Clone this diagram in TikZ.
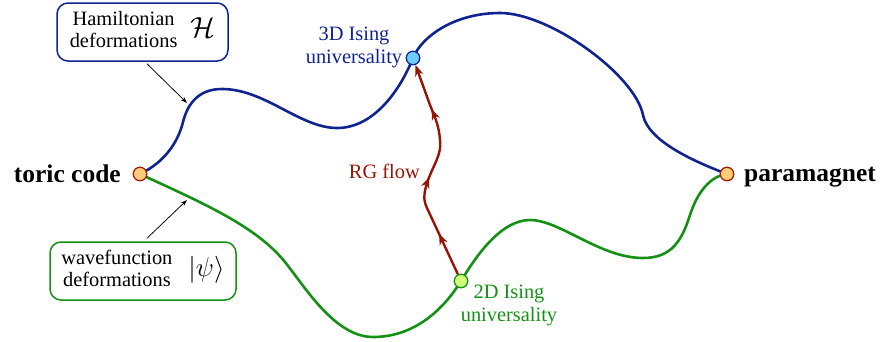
\RequirePackage{fix-cm}
\documentclass[tikz,border=0pt]{standalone}
\usepackage{fontspec}
\setmainfont{Liberation Serif}
\usetikzlibrary{arrows.meta,decorations.markings}
\definecolor{cblue}{RGB}{15,35,145}
\definecolor{cgreen}{RGB}{20,145,20}
\definecolor{cred}{RGB}{150,20,5}
\definecolor{dotorange}{RGB}{255,205,120}
\definecolor{dotblue}{RGB}{110,205,255}
\definecolor{dotgreen}{RGB}{210,255,120}
\definecolor{dotedge}{RGB}{160,30,10}
\pgfdeclarelayer{background}
\pgfsetlayers{background,main}
\begin{document}
\begin{tikzpicture}[x=1pt,y=-1pt,
  dot/.style={circle,draw,line width=1.3pt,minimum size=13.5pt,inner sep=0pt},
  curve/.style={line width=2.6pt},
  lbl/.style={font=\fontsize{20.4}{23}\selectfont,inner sep=0pt,align=center},
  bigl/.style={font=\fontsize{25.5}{28}\selectfont\bfseries,inner sep=0pt},
  infobox/.style={draw,rounded corners=11pt,line width=1.5pt,inner sep=0pt,
    font=\fontsize{20.4}{22.5}\selectfont,minimum height=58pt},
  pointer/.style={-{Stealth[length=6.5pt,width=4.5pt]},line width=0.75pt},
  rgtip/.tip={Stealth[length=11pt,width=8.5pt,inset=3.5pt]},
  rg/.style={cred,line width=2.4pt,-rgtip,postaction=decorate,
    decoration={markings,
      mark=at position 0.2 with {\arrow{rgtip}},
      mark=at position 0.47 with {\arrow{rgtip}},
      mark=at position 0.79 with {\arrow{rgtip}}}}
]
\useasboundingbox (0,0) rectangle (881,341);

% info boxes
\node[infobox,draw=cblue,minimum width=171pt] (hbox) at (142.5,32)
  {\begin{tabular}{@{}c@{}}Hamiltonian\\deformations\end{tabular}\hspace{13pt}{\fontsize{29}{29}\selectfont$\mathcal{H}$}};
\node[infobox,draw=cgreen,minimum width=186pt] (wbox) at (143,271)
  {\begin{tabular}{@{}c@{}}wavefunction\\deformations\end{tabular}\hspace{16pt}{\fontsize{27}{27}\selectfont$|\psi\rangle$}};

% dots
\node[dot,draw=dotedge,fill=dotorange] (tc) at (140,174) {};
\node[dot,draw=dotedge,fill=dotorange] (pm) at (727,174) {};
\node[dot,draw=cblue,fill=dotblue] (d3) at (413,58) {};
\node[dot,draw=cgreen,fill=dotgreen] (d2) at (461,281) {};

% labels
\node[bigl,anchor=base east] (tclbl) at (121,182) {toric code};
\node[bigl,anchor=base west] (pmlbl) at (744,181) {paramagnet};
\node[lbl,text=cblue] (d3lbl) at (354,47) {3D Ising\\universality};
\node[lbl,text=cgreen] (d2lbl) at (509,305) {2D Ising\\universality};
\node[lbl,text=cred,anchor=base east] (rglbl) at (420,178) {RG flow};

% pointers
\coordinate (hpt) at (187,103);
\coordinate (wpt) at (187,200);
\draw[pointer] ([xshift=4.5pt,yshift=-2pt]hbox.south) -- (hpt);
\draw[pointer] ([xshift=4pt,yshift=3pt]wbox.north) -- (wpt);

\begin{pgfonlayer}{background}
\draw[curve,cblue] (tc.center) .. controls (165,162) and (178,142) .. (183,122)
  .. controls (188,102) and (200,89) .. (222,89)
  .. controls (265,89) and (300,128) .. (337,128)
  .. controls (375,128) and (401,88) .. (d3.center)
  .. controls (422,36) and (455,13) .. (500,13)
  .. controls (550,13) and (635,75) .. (643,115)
  .. controls (648,140) and (690,160) .. (pm.center);
\draw[curve,cgreen] (tc.center) .. controls (200,202) and (255,225) .. (285,262)
  .. controls (305,287) and (335,337) .. (373,337)
  .. controls (410,337) and (440,315) .. (d2.center)
  .. controls (475,258) and (500,220) .. (530,220)
  .. controls (560,220) and (600,258) .. (643,258)
  .. controls (672,258) and (682,240) .. (690,215)
  .. controls (697,193) and (710,176) .. (pm.center);
\end{pgfonlayer}

% RG flow
\draw[rg] (d2) -- (427,208) .. controls (423,200) and (424,193) .. (427,183)
  .. controls (433,165) and (442,155) .. (440,140)
  .. controls (439,125) and (434,115) .. (430,105) -- (d3);
\end{tikzpicture}
\end{document}
